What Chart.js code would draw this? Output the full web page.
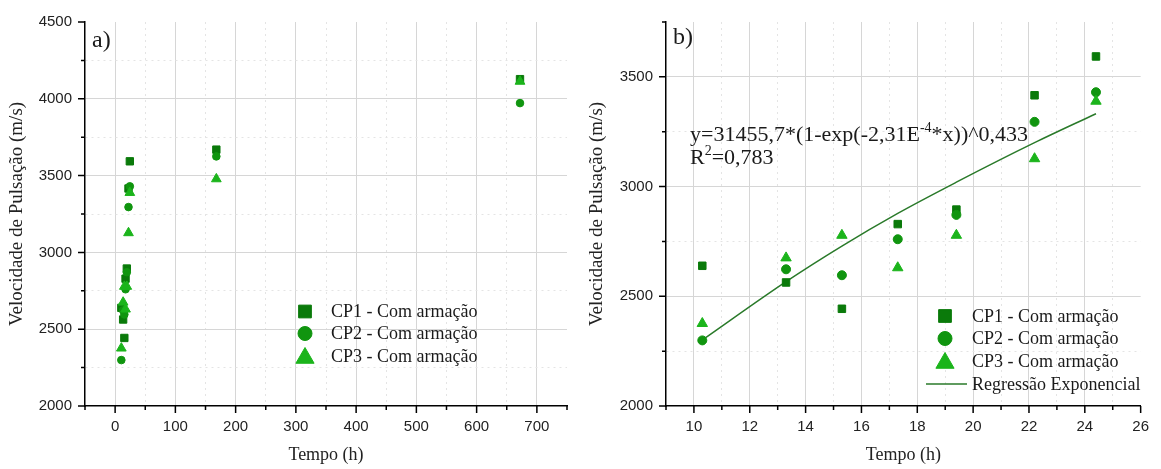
<!DOCTYPE html>
<html>
<head>
<meta charset="utf-8">
<script src="https://cdn.jsdelivr.net/npm/chart.js@4"></script>
<style>
  body { margin: 0; background: #fff; }
  #wrap { position: relative; width: 1161px; height: 469px; background: #fff; }
  canvas { position: absolute; top: 0; }
</style>
</head>
<body>
<div id="wrap">
  <canvas id="chartA" width="580" height="469" style="left:0"></canvas>
  <canvas id="chartB" width="581" height="469" style="left:580px"></canvas>
</div>
<script>
// Tempo de ensaio (h)
const tempoInicial = [10.3, 13.3, 15.3, 17.3, 19.4, 22.2, 24.4];
const tempoFinal = [168, 672];

// Velocidade de pulsação (m/s) por corpo de prova
const cp1Inicial = [2639, 2563, 2443, 2829, 2895, 3416, 3593];
const cp2Inicial = [2299, 2623, 2596, 2760, 2871, 3295, 3430];
const cp3Inicial = [2376, 2675, 2778, 2630, 2778, 3127, 3389];
const cp1Final = [3669, 4128];
const cp2Final = [3625, 3972];
const cp3Final = [3478, 4113];

// Curva da regressão exponencial nos tempos medidos
const regressao = [2301, 2567, 2729, 2878, 3020, 3200, 3332];

// Rótulos dos eixos
const xTicksA = [0, 100, 200, 300, 400, 500, 600, 700];
const yTicksA = [2000, 2500, 3000, 3500, 4000, 4500];
const xTicksB = [10, 12, 14, 16, 18, 20, 22, 24, 26];
const yTicksB = [2000, 2500, 3000, 3500];

const serieNomes = ['CP1 - Com armação', 'CP2 - Com armação', 'CP3 - Com armação'];
const nomeRegressao = 'Regressão Exponencial';

const COR_CP1 = '#0a7a0a';
const COR_CP2 = '#10950f';
const COR_CP3 = '#1bb41b';
const COR_LINHA = '#2a7a2a';
const SANS = '"Liberation Sans", Arial, sans-serif';
const SERIF = '"Liberation Serif", "Times New Roman", serif';

function pontos(xs, ys) {
  return xs.map((x, i) => ({ x: x, y: ys[i] }));
}

function eixo(min, max, step, majors, titulo, horizontal) {
  return {
    type: 'linear',
    min: min,
    max: max,
    ticks: {
      stepSize: step,
      autoSkip: false,
      maxRotation: 0,
      padding: horizontal ? 12 : 13,
      color: '#222',
      font: { family: SANS, size: 15 },
      callback: v => majors.includes(v) ? String(v) : ''
    },
    grid: {
      drawTicks: false,
      lineWidth: 1,
      color: ctx => {
        const v = ctx.tick ? ctx.tick.value : null;
        if (v === min || v === max) return 'rgba(0,0,0,0)';
        return majors.includes(v) ? '#d6d6d6' : '#e4e4e4';
      }
    },
    border: {
      color: '#000',
      width: 1.5,
      dash: ctx => (ctx.tick && !majors.includes(ctx.tick.value)) ? [2, 4] : []
    },
    title: {
      display: true,
      text: titulo,
      color: '#222',
      font: { family: SERIF, size: horizontal ? 18 : 19 },
      padding: horizontal ? { top: 0, bottom: 3 } : { top: 6, bottom: 0 }
    },
    afterFit: s => {
      if (horizontal) s.height = 63; else s.width = 85;
    }
  };
}

// Marcas de escala: principais mais longas, secundárias curtas, para fora
function marcasPlugin(majX, majY) {
  return {
    id: 'marcas',
    afterDraw(chart) {
      const ctx = chart.ctx;
      const sx = chart.scales.x, sy = chart.scales.y;
      const area = chart.chartArea;
      ctx.save();
      ctx.strokeStyle = '#000';
      ctx.lineWidth = 1.5;
      ctx.beginPath();
      sx.ticks.forEach(t => {
        const px = sx.getPixelForValue(t.value);
        const len = majX.includes(t.value) ? 7 : 4;
        ctx.moveTo(px, area.bottom);
        ctx.lineTo(px, area.bottom + len);
      });
      sy.ticks.forEach(t => {
        const py = sy.getPixelForValue(t.value);
        const len = majY.includes(t.value) ? 7 : 4;
        ctx.moveTo(area.left, py);
        ctx.lineTo(area.left - len, py);
      });
      ctx.stroke();
      ctx.restore();
    }
  };
}

// Legenda desenhada dentro da área do gráfico
function legendaPlugin(mx, tx, linhas, comLinha) {
  return {
    id: 'legenda',
    afterDraw(chart) {
      const ctx = chart.ctx;
      const h = Chart.helpers;
      const estilos = [
        { style: 'rect', radius: 9, cor: COR_CP1, dy: 0 },
        { style: 'circle', radius: 7, cor: COR_CP2, dy: 0 },
        { style: 'triangle', radius: 10.5, cor: COR_CP3, dy: 2 }
      ];
      ctx.save();
      ctx.font = '18px ' + SERIF;
      ctx.textBaseline = 'middle';
      ctx.textAlign = 'left';
      estilos.forEach((e, i) => {
        ctx.fillStyle = e.cor;
        ctx.strokeStyle = e.cor;
        ctx.lineWidth = 1;
        h.drawPoint(ctx, { pointStyle: e.style, radius: e.radius, borderWidth: 1, rotation: 0 }, mx, linhas[i] + e.dy);
        ctx.fillStyle = '#1a1a1a';
        ctx.fillText(serieNomes[i], tx, linhas[i] + 1);
      });
      if (comLinha) {
        ctx.strokeStyle = COR_LINHA;
        ctx.lineWidth = 1.5;
        ctx.beginPath();
        ctx.moveTo(mx - 19, linhas[3]);
        ctx.lineTo(mx + 22, linhas[3]);
        ctx.stroke();
        ctx.fillStyle = '#1a1a1a';
        ctx.fillText(nomeRegressao, tx, linhas[3] + 1);
      }
      ctx.restore();
    }
  };
}

// Texto com partes sobrescritas
function textoSobrescrito(ctx, partes, x, y, size) {
  let cx = x;
  partes.forEach(p => {
    if (p.sup) {
      ctx.font = Math.round(size * 0.62) + 'px ' + SERIF;
      ctx.fillText(p.t, cx, y - size * 0.42);
    } else {
      ctx.font = size + 'px ' + SERIF;
      ctx.fillText(p.t, cx, y);
    }
    cx += ctx.measureText(p.t).width;
  });
}

function rotuloPlugin(letra, lx, ly, equacao) {
  return {
    id: 'rotulo',
    afterDraw(chart) {
      const ctx = chart.ctx;
      ctx.save();
      ctx.fillStyle = '#1a1a1a';
      ctx.textBaseline = 'alphabetic';
      ctx.textAlign = 'left';
      ctx.font = '24px ' + SERIF;
      ctx.fillText(letra, lx, ly);
      if (equacao) {
        textoSobrescrito(ctx, [
          { t: 'y=31455,7*(1-exp(-2,31E' }, { t: '-4', sup: true }, { t: '*x))^0,433' }
        ], 110, 141, 22);
        textoSobrescrito(ctx, [
          { t: 'R' }, { t: '2', sup: true }, { t: '=0,783' }
        ], 110, 164, 22);
      }
      ctx.restore();
    }
  };
}

function conjunto(label, data, style, radius, cor, ordem) {
  return {
    type: 'scatter',
    label: label,
    data: data,
    pointStyle: style,
    pointRadius: radius,
    pointHoverRadius: radius,
    pointBackgroundColor: cor,
    pointBorderColor: cor,
    pointBorderWidth: 1,
    order: ordem
  };
}

const baseOpcoes = {
  responsive: false,
  animation: false,
  events: [],
  plugins: { legend: { display: false }, tooltip: { enabled: false } }
};

// a) Todo o período de ensaio
new Chart(document.getElementById('chartA'), {
  type: 'scatter',
  data: {
    datasets: [
      conjunto(serieNomes[0], pontos(tempoInicial.concat(tempoFinal), cp1Inicial.concat(cp1Final)), 'rect', 5.2, COR_CP1, 3),
      conjunto(serieNomes[1], pontos(tempoInicial.concat(tempoFinal), cp2Inicial.concat(cp2Final)), 'circle', 3.8, COR_CP2, 2),
      conjunto(serieNomes[2], pontos(tempoInicial.concat(tempoFinal), cp3Inicial.concat(cp3Final)), 'triangle', 5.6, COR_CP3, 1)
    ]
  },
  options: Object.assign({}, baseOpcoes, {
    layout: { padding: { top: 15, right: 13, left: 0, bottom: 0 } },
    scales: {
      x: eixo(-50, 750, 50, xTicksA, 'Tempo (h)', true),
      y: eixo(2000, 4500, 250, yTicksA, 'Velocidade de Pulsação (m/s)', false)
    }
  }),
  plugins: [marcasPlugin(xTicksA, yTicksA), legendaPlugin(305, 331, [311.5, 333.5, 356], false), rotuloPlugin('a)', 92, 47, false)]
});

// b) Primeiras 24 horas com a regressão
new Chart(document.getElementById('chartB'), {
  type: 'scatter',
  data: {
    datasets: [
      conjunto(serieNomes[0], pontos(tempoInicial, cp1Inicial), 'rect', 5.3, COR_CP1, 3),
      conjunto(serieNomes[1], pontos(tempoInicial, cp2Inicial), 'circle', 4.5, COR_CP2, 2),
      conjunto(serieNomes[2], pontos(tempoInicial, cp3Inicial), 'triangle', 6, COR_CP3, 1),
      {
        type: 'line',
        label: nomeRegressao,
        data: pontos(tempoInicial, regressao),
        borderColor: COR_LINHA,
        borderWidth: 1.5,
        pointRadius: 0,
        fill: false,
        cubicInterpolationMode: 'monotone',
        order: 4
      }
    ]
  },
  options: Object.assign({}, baseOpcoes, {
    layout: { padding: { top: 16, right: 13, left: 0, bottom: 0 } },
    scales: {
      x: eixo(9, 26, 1, xTicksB, 'Tempo (h)', true),
      y: Object.assign(eixo(2000, 3750, 250, yTicksB, 'Velocidade de Pulsação (m/s)', false), {
        afterFit: s => { s.width = 86; }
      })
    }
  }),
  plugins: [marcasPlugin(xTicksB, yTicksB), legendaPlugin(365, 392, [316, 338.5, 361, 384], true), rotuloPlugin('b)', 93, 44, true)]
});
</script>
</body>
</html>
